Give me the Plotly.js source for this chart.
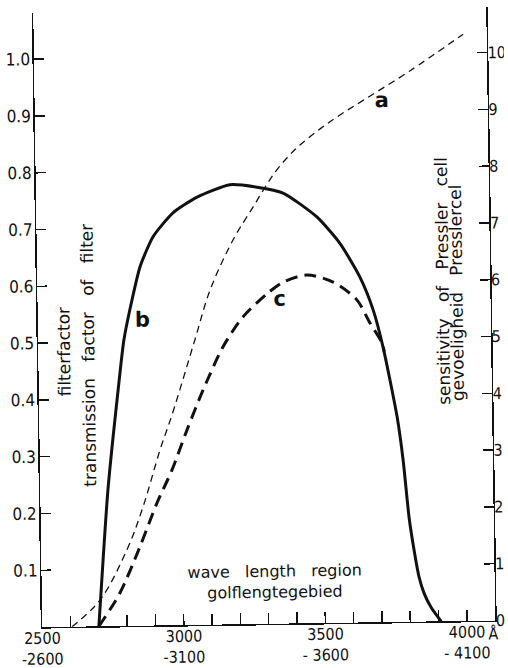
<!DOCTYPE html>
<html>
<head>
<meta charset="utf-8">
<script src="https://cdn.plot.ly/plotly-3.0.1.min.js"></script>
<style>
html,body{margin:0;padding:0;background:#fff;overflow:hidden;}
#wrap{width:508px;height:668px;transform:rotate(-0.84deg);transform-origin:254px 334px;}
</style>
</head>
<body>
<div id="wrap"><div id="chart" style="width:508px;height:668px;"></div></div>
<script>
// wavelength (Å) and values
const wavelengthA = [2605, 2705, 2803, 2862, 2925, 2969, 3054, 3110, 3194, 3266, 3310, 3346, 3389, 3435, 3507, 3578, 3667, 3828, 4017];
const sensitivityA = [0, 0.46, 1.34, 2.09, 3.09, 3.70, 5.02, 5.89, 6.77, 7.34, 7.69, 7.95, 8.20, 8.42, 8.70, 8.94, 9.21, 9.70, 10.33];

const wavelengthB = [2700, 2739, 2780, 2803, 2834, 2864, 2911, 2983, 3069, 3186, 3281, 3373, 3491, 3571, 3640, 3685, 3718, 3764, 3783, 3801, 3817, 3833, 3850, 3874, 3909];
const transmissionB = [0, 0.24, 0.415, 0.503, 0.574, 0.632, 0.684, 0.726, 0.753, 0.774, 0.769, 0.758, 0.715, 0.668, 0.608, 0.55, 0.484, 0.361, 0.285, 0.184, 0.126, 0.079, 0.05, 0.025, 0];

const wavelengthC = [2700, 2776, 2849, 2911, 2966, 3021, 3080, 3153, 3225, 3311, 3368, 3453, 3545, 3628, 3673, 3715, 3722];
const productC = [0, 0.058, 0.139, 0.215, 0.273, 0.343, 0.413, 0.489, 0.541, 0.581, 0.601, 0.613, 0.600, 0.568, 0.527, 0.491, 0.476];

const xTickVals = [2500,2600,2700,2800,2900,3000,3100,3200,3300,3400,3500,3600,3700,3800,3900,4000];
const xTickText = ['2500<br>-2600','','','','','3000<br>-3100','','','','','3500<br>- 3600','','','','','4000<br>- 4100'];
const leftTickVals = [0.1,0.2,0.3,0.4,0.5,0.6,0.7,0.8,0.9,1.0];
const leftTickText = ['0.1','0.2','0.3','0.4','0.5','0.6','0.7','0.8','0.9','1.0'];
const rightTickVals = [0,1,2,3,4,5,6,7,8,9,10];
const rightTickText = ['0','1','2','3','4','5','6','7','8','9','10'];

const ink = '#111';
const tickFamily = 'DejaVu Sans Condensed, Liberation Sans, sans-serif';
const labelFont = {family: 'DejaVu Sans, sans-serif', size: 17, color: ink};
const curveFont = {family: 'DejaVu Sans, sans-serif', size: 21, color: ink, weight: 'bold'};
const sp = '\u00a0\u00a0 ';

const traces = [
  {x: wavelengthA, y: sensitivityA, yaxis: 'y2', mode: 'lines',
   line: {color: ink, width: 1.3, dash: '7px,5px', shape: 'spline', smoothing: 1}},
  {x: wavelengthB, y: transmissionB, mode: 'lines',
   line: {color: ink, width: 3, shape: 'spline', smoothing: 0.6}},
  {x: wavelengthC, y: productC, mode: 'lines',
   line: {color: ink, width: 3, dash: '12px,7px', shape: 'spline', smoothing: 0.8}}
];

const axisCommon = {showgrid: false, zeroline: false, showline: true, linecolor: ink, linewidth: 1.5,
  ticks: 'inside', tickcolor: ink, tickwidth: 1.5, tickmode: 'array'};

const layout = {
  width: 508, height: 668,
  margin: {l: 38, r: 17, t: 10, b: 44},
  paper_bgcolor: '#fff', plot_bgcolor: '#fff',
  showlegend: false,
  xaxis: Object.assign({}, axisCommon, {range: [2500, 4100], tickvals: xTickVals, ticktext: xTickText, ticklen: 11,
    tickfont: {family: tickFamily, size: 16, color: ink}, ticklabelstandoff: -4}),
  yaxis: Object.assign({}, axisCommon, {range: [0, 1.081], tickvals: leftTickVals, ticktext: leftTickText, ticklen: 10,
    tickfont: {family: tickFamily, size: 17, color: ink}, ticklabelstandoff: -1}),
  yaxis2: Object.assign({}, axisCommon, {range: [0, 10.81], tickvals: rightTickVals, ticktext: rightTickText, ticklen: 10,
    tickfont: {family: tickFamily, size: 16, color: ink}, ticklabelstandoff: -4,
    overlaying: 'y', side: 'right'}),
  annotations: [
    {text: 'a', x: 3727, y: 0.919, xref: 'x', yref: 'y', xanchor: 'center', yanchor: 'middle', showarrow: false, font: curveFont},
    {text: 'b', x: 2868, y: 0.538, xref: 'x', yref: 'y', xanchor: 'center', yanchor: 'middle', showarrow: false, font: curveFont},
    {text: 'c', x: 3353, y: 0.573, xref: 'x', yref: 'y', xanchor: 'center', yanchor: 'middle', showarrow: false, font: curveFont},
    {text: 'wave' + sp + 'length' + sp + 'region<br>golflengtegebied', x: 0.515, y: 0.068, xref: 'paper', yref: 'paper',
     xanchor: 'center', yanchor: 'middle', showarrow: false, font: {family: 'DejaVu Sans, sans-serif', size: 16, color: ink}},
    {text: 'filterfactor', x: 0.0567, y: 0.448, xref: 'paper', yref: 'paper', xanchor: 'center', yanchor: 'middle', showarrow: false, textangle: -90, font: labelFont},
    {text: 'transmission' + sp + 'factor' + sp + 'of' + sp + 'filter', x: 0.1097, y: 0.442, xref: 'paper', yref: 'paper', xanchor: 'center', yanchor: 'middle', showarrow: false, textangle: -90, font: labelFont},
    {text: 'sensitivity' + sp + 'of' + sp + 'Pressler' + sp + 'cell', x: 0.894, y: 0.349, xref: 'paper', yref: 'paper', xanchor: 'center', yanchor: 'bottom', showarrow: false, textangle: -90, font: labelFont},
    {text: 'gevoeligheid' + sp + 'Presslercel', x: 0.925, y: 0.355, xref: 'paper', yref: 'paper', xanchor: 'center', yanchor: 'bottom', showarrow: false, textangle: -90, font: labelFont},
    {text: 'Å', x: 0.981, y: -0.022, xref: 'paper', yref: 'paper', xanchor: 'left', yanchor: 'middle', showarrow: false, font: {family: tickFamily, size: 16, color: ink}}
  ]
};

Plotly.newPlot('chart', traces, layout, {displayModeBar: false, staticPlot: true});
</script>
</body>
</html>
